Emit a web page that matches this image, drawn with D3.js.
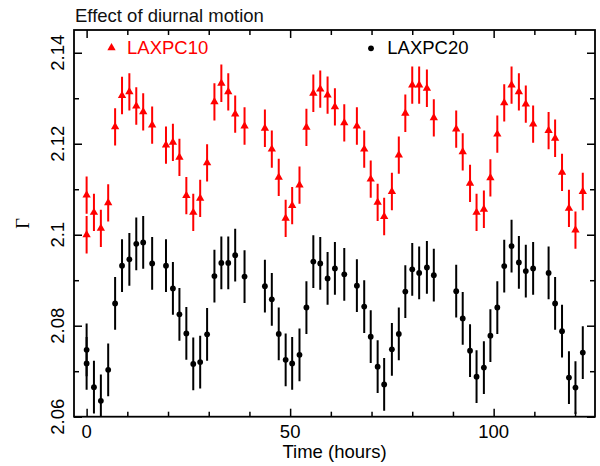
<!DOCTYPE html>
<html>
<head>
<meta charset="utf-8">
<script src="https://cdn.jsdelivr.net/npm/d3@7"></script>
<style>
  body { margin: 0; background: #fff; }
  svg { display: block; }
  text { font-family: "Liberation Sans", Arial, Helvetica, sans-serif; }
</style>
</head>
<body>
<div id="chart"></div>
<script>
// time of each observation (hours), shared by both detectors
const hours = [0, 0, 1.8, 3.5, 5.3, 7.0, 8.7, 10.5, 12.2, 13.9, 16.1, 19.5, 21.2, 22.8, 24.5, 26.2,
  27.9, 29.6, 31.4, 33.1, 34.8, 36.5, 38.8, 43.8, 45.5, 47.2, 48.9, 50.5, 52.3, 54.0, 55.7, 57.4,
  59.2, 61.0, 63.3, 66.4, 68.2, 69.8, 71.5, 73.1, 75.0, 76.7, 78.3, 80.0, 81.7, 83.6, 85.3, 90.8,
  92.4, 94.2, 95.8, 97.6, 99.2, 100.9, 102.6, 104.4, 106.2, 107.9, 109.7, 113.5, 115.1, 116.8,
  118.5, 120.1, 121.9];

// photon index Gamma
const laxpc10 = [2.1000, 2.1087, 2.1049, 2.1014, 2.1070, 2.1237, 2.1306, 2.1314, 2.1283, 2.1270,
  2.1241, 2.1197, 2.1203, 2.1170, 2.1086, 2.1049, 2.1080, 2.1158, 2.1292, 2.1333, 2.1314, 2.1265,
  2.1239, 2.1234, 2.1188, 2.1126, 2.1036, 2.1064, 2.1109, 2.1236, 2.1311, 2.1320, 2.1307, 2.1281,
  2.1246, 2.1239, 2.1188, 2.1122, 2.1071, 2.1040, 2.1095, 2.1175, 2.1267, 2.1329, 2.1329, 2.1322,
  2.1257, 2.1232, 2.1182, 2.1113, 2.1049, 2.1056, 2.1125, 2.1221, 2.1290, 2.1329, 2.1314, 2.1287,
  2.1243, 2.1229, 2.1212, 2.1137, 2.1058, 2.1010, 2.1095];

const laxpc20 = [2.0747, 2.0717, 2.0665, 2.0635, 2.0703, 2.0849, 2.0932, 2.0946, 2.0980, 2.0983,
  2.0937, 2.0932, 2.0882, 2.0825, 2.0783, 2.0716, 2.0720, 2.0781, 2.0909, 2.0938, 2.0938, 2.0955,
  2.0908, 2.0887, 2.0858, 2.0782, 2.0725, 2.0717, 2.0736, 2.0840, 2.0941, 2.0937, 2.0904, 2.0926,
  2.0913, 2.0888, 2.0842, 2.0776, 2.0710, 2.0671, 2.0748, 2.0782, 2.0875, 2.0924, 2.0916, 2.0928,
  2.0911, 2.0876, 2.0816, 2.0745, 2.0688, 2.0708, 2.0778, 2.0840, 2.0931, 2.0975, 2.0939, 2.0920,
  2.0926, 2.0916, 2.0849, 2.0788, 2.0686, 2.0664, 2.0741];

const err10 = 0.0041;
const err20 = 0.0058;

const xMajor = [0, 50, 100];
const xTickLabels = ["0", "50", "100"];
const xMinor = [10, 20, 30, 40, 60, 70, 80, 90, 110, 120];
const yMajor = [2.06, 2.08, 2.1, 2.12, 2.14];
const yTickLabels = ["2.06", "2.08", "2.1", "2.12", "2.14"];
const yMinor = [2.07, 2.09, 2.11, 2.13];

const width = 600, height = 466;
const pLeft = 74, pRight = 595, pTop = 30, pBottom = 416.7;

const x = d3.scaleLinear().domain([-3.1, 124.9]).range([pLeft, pRight]);
const y = d3.scaleLinear().domain([2.06, 2.145]).range([pBottom, pTop]);

const svg = d3.select('#chart').append('svg')
  .attr('width', width)
  .attr('height', height);

svg.append('defs').append('clipPath').attr('id', 'plot')
  .append('rect')
  .attr('x', pLeft).attr('y', pTop)
  .attr('width', pRight - pLeft).attr('height', pBottom - pTop);

// ticks on all four sides, pointing inward
function ticks(axis, pos, values, len) {
  const g = svg.append('g').attr('transform', pos)
    .call(axis.tickValues(values).tickSize(len).tickFormat(''));
  g.select('.domain').remove();
  g.selectAll('line').attr('stroke', '#000').attr('stroke-width', 1.5);
}
ticks(d3.axisBottom(x), `translate(0,${pBottom})`, xMajor, -8);
ticks(d3.axisBottom(x), `translate(0,${pBottom})`, xMinor, -5);
ticks(d3.axisTop(x), `translate(0,${pTop})`, xMajor, -8);
ticks(d3.axisTop(x), `translate(0,${pTop})`, xMinor, -5);
ticks(d3.axisLeft(y), `translate(${pLeft},0)`, yMajor, -8);
ticks(d3.axisLeft(y), `translate(${pLeft},0)`, yMinor, -5);
ticks(d3.axisRight(y), `translate(${pRight},0)`, yMajor, -8);
ticks(d3.axisRight(y), `translate(${pRight},0)`, yMinor, -5);

svg.append('rect')
  .attr('x', pLeft).attr('y', pTop)
  .attr('width', pRight - pLeft).attr('height', pBottom - pTop)
  .attr('fill', 'none').attr('stroke', '#000').attr('stroke-width', 1.8);

// tick labels
svg.append('g').selectAll('text')
  .data(xMajor)
  .enter().append('text')
  .attr('x', d => x(d))
  .attr('y', 437.7)
  .attr('text-anchor', 'middle')
  .attr('font-size', 18.5)
  .text((d, i) => xTickLabels[i]);

svg.append('g').selectAll('text')
  .data(yMajor)
  .enter().append('text')
  .attr('transform', d => `translate(63.5,${y(d)}) rotate(-90)`)
  .attr('text-anchor', 'middle')
  .attr('font-size', 18.5)
  .text((d, i) => yTickLabels[i]);

svg.append('text')
  .attr('x', (pLeft + pRight) / 2)
  .attr('y', 458)
  .attr('text-anchor', 'middle')
  .attr('font-size', 18.5)
  .text('Time (hours)');

svg.append('text')
  .attr('transform', `translate(29,${(pTop + pBottom) / 2}) rotate(-90)`)
  .attr('text-anchor', 'middle')
  .attr('font-size', 18.5)
  .style('font-family', '"Liberation Serif", "Times New Roman", serif')
  .text('Γ');

svg.append('text')
  .attr('x', 75)
  .attr('y', 21.7)
  .attr('font-size', 18.5)
  .attr('fill', '#111')
  .text('Effect of diurnal motion');

// data
const plot = svg.append('g').attr('clip-path', 'url(#plot)');
const triangle = d3.symbol().type(d3.symbolTriangle).size(30);

function series(values, err, color, marker) {
  const g = plot.append('g');
  g.selectAll('line')
    .data(values)
    .enter().append('line')
    .attr('x1', (d, i) => x(hours[i]))
    .attr('x2', (d, i) => x(hours[i]))
    .attr('y1', d => y(d - err))
    .attr('y2', d => y(d + err))
    .attr('stroke', color)
    .attr('stroke-width', 2);
  if (marker === 'triangle') {
    g.selectAll('path')
      .data(values)
      .enter().append('path')
      .attr('d', triangle)
      .attr('transform', (d, i) => `translate(${x(hours[i])},${y(d)})`)
      .attr('fill', color);
  } else {
    g.selectAll('circle')
      .data(values)
      .enter().append('circle')
      .attr('cx', (d, i) => x(hours[i]))
      .attr('cy', d => y(d))
      .attr('r', 2.9)
      .attr('fill', color);
  }
}
series(laxpc20, err20, '#000', 'circle');
series(laxpc10, err10, '#ff0000', 'triangle');

// legend
svg.append('path')
  .attr('d', triangle)
  .attr('transform', 'translate(111.5,47.8)')
  .attr('fill', '#ff0000');
svg.append('text')
  .attr('x', 127).attr('y', 53.5)
  .attr('font-size', 18.5)
  .attr('fill', '#ff0000')
  .text('LAXPC10');

svg.append('circle')
  .attr('cx', 371).attr('cy', 48.3).attr('r', 2.9)
  .attr('fill', '#000');
svg.append('text')
  .attr('x', 387.3).attr('y', 53.5)
  .attr('font-size', 18.5)
  .attr('fill', '#000')
  .text('LAXPC20');
</script>
</body>
</html>
